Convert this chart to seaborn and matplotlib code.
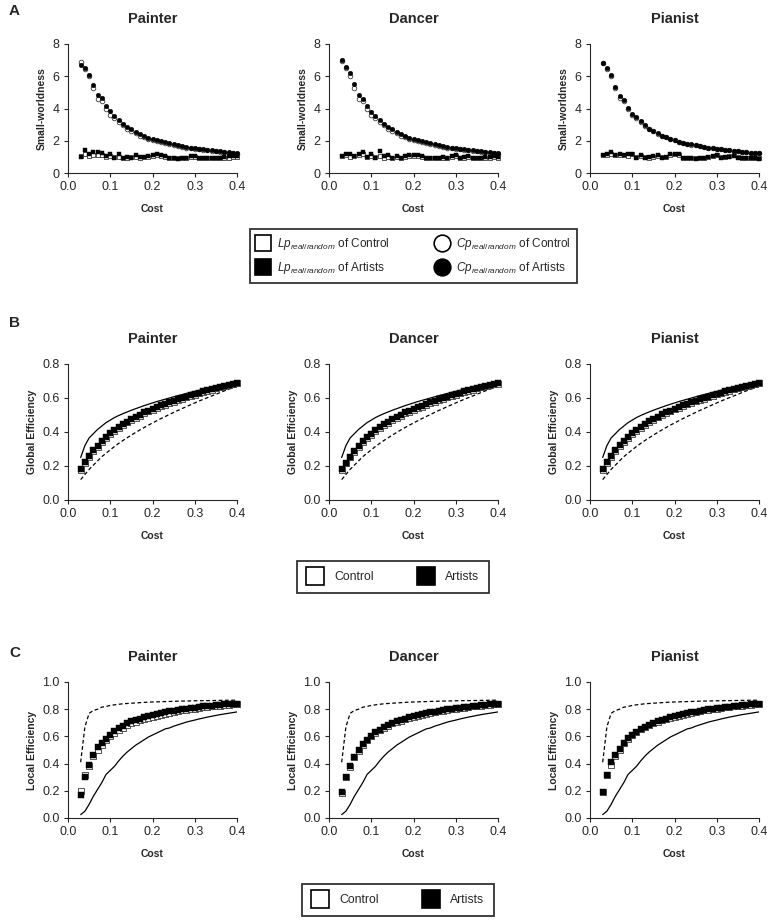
import numpy as np
import pandas as pd
import matplotlib
matplotlib.use('Agg')
import matplotlib.pyplot as plt
from matplotlib.lines import Line2D
import seaborn as sns

sns.set_style("ticks")
plt.rcParams['font.family'] = ['Liberation Sans', 'DejaVu Sans']
plt.rcParams['mathtext.fontset'] = 'custom'
plt.rcParams['mathtext.rm'] = 'Liberation Sans'
plt.rcParams['mathtext.it'] = 'Liberation Sans:italic'

# ---- data ----
cost = [0.03, 0.04, 0.05, 0.06, 0.07, 0.08, 0.09, 0.10, 0.11, 0.12,
        0.13, 0.14, 0.15, 0.16, 0.17, 0.18, 0.19, 0.20, 0.21, 0.22,
        0.23, 0.24, 0.25, 0.26, 0.27, 0.28, 0.29, 0.30, 0.31, 0.32,
        0.33, 0.34, 0.35, 0.36, 0.37, 0.38, 0.39, 0.40]
groups = ['Painter', 'Dancer', 'Pianist']

# small-worldness: Cp and Lp (real/random)
sw_painter_cp_art = [6.70, 6.50, 6.10, 5.45, 4.85, 4.65, 4.15, 3.85, 3.55, 3.30, 3.05, 2.85, 2.70, 2.55, 2.40, 2.30, 2.20, 2.10, 2.05, 1.98,
                     1.92, 1.85, 1.80, 1.72, 1.67, 1.62, 1.58, 1.54, 1.50, 1.47, 1.44, 1.41, 1.38, 1.34, 1.30, 1.28, 1.25, 1.22]
sw_painter_cp_con = [6.90, 6.45, 6.00, 5.30, 4.60, 4.45, 3.95, 3.60, 3.40, 3.15, 2.95, 2.75, 2.60, 2.45, 2.32, 2.22, 2.12, 2.05, 1.98, 1.92,
                     1.85, 1.80, 1.74, 1.68, 1.63, 1.58, 1.54, 1.50, 1.46, 1.43, 1.40, 1.37, 1.34, 1.31, 1.28, 1.25, 1.22, 1.20]
sw_painter_lp_art = [1.00, 1.40, 1.15, 1.30, 1.30, 1.25, 1.05, 1.20, 0.95, 1.15, 0.90, 1.00, 0.95, 1.10, 1.00, 1.00, 1.05, 1.10, 1.15, 1.10,
                     1.05, 0.95, 0.90, 0.85, 0.95, 0.90, 1.05, 1.05, 0.95, 0.95, 0.95, 0.95, 0.95, 0.95, 1.00, 1.05, 1.05, 1.05]
sw_painter_lp_con = [1.05, 1.15, 1.05, 1.10, 1.10, 1.10, 1.00, 1.05, 1.00, 1.00, 0.95, 0.95, 1.00, 1.00, 0.95, 1.00, 1.00, 1.05, 1.10, 1.05,
                     1.00, 0.95, 0.95, 0.90, 0.90, 0.95, 1.00, 1.00, 0.95, 0.95, 0.95, 0.95, 0.90, 0.95, 0.95, 0.95, 1.00, 1.00]

sw_dancer_cp_art = [7.00, 6.60, 6.20, 5.50, 4.85, 4.60, 4.15, 3.80, 3.55, 3.30, 3.05, 2.85, 2.70, 2.55, 2.40, 2.30, 2.20, 2.12, 2.05, 1.98,
                    1.92, 1.85, 1.80, 1.73, 1.67, 1.62, 1.58, 1.54, 1.50, 1.47, 1.44, 1.41, 1.38, 1.35, 1.32, 1.29, 1.26, 1.24]
sw_dancer_cp_con = [6.95, 6.50, 6.00, 5.30, 4.60, 4.45, 3.95, 3.60, 3.40, 3.15, 2.95, 2.75, 2.60, 2.45, 2.32, 2.22, 2.12, 2.05, 1.98, 1.92,
                    1.85, 1.80, 1.74, 1.68, 1.63, 1.58, 1.54, 1.50, 1.46, 1.43, 1.40, 1.37, 1.34, 1.31, 1.28, 1.25, 1.22, 1.20]
sw_dancer_lp_art = [1.05, 1.20, 1.15, 1.05, 1.20, 1.30, 1.00, 1.20, 0.95, 1.35, 1.05, 1.10, 0.95, 1.05, 0.95, 1.05, 1.10, 1.10, 1.10, 1.05,
                    0.95, 0.95, 0.90, 0.90, 1.00, 0.95, 1.05, 1.10, 0.95, 1.00, 1.05, 0.95, 0.95, 0.95, 1.00, 1.00, 1.05, 1.00]
sw_dancer_lp_con = [1.05, 1.10, 1.00, 1.05, 1.10, 1.15, 1.00, 1.05, 1.00, 1.05, 0.95, 1.00, 0.95, 1.00, 0.95, 1.00, 1.05, 1.05, 1.05, 1.00,
                    0.95, 0.90, 0.90, 0.90, 0.95, 0.95, 1.00, 1.05, 0.95, 0.95, 1.00, 0.95, 0.90, 0.95, 0.95, 0.95, 1.00, 0.95]

sw_pianist_cp_art = [6.85, 6.50, 6.10, 5.35, 4.75, 4.55, 4.05, 3.65, 3.45, 3.20, 2.95, 2.75, 2.60, 2.45, 2.32, 2.22, 2.12, 2.05, 1.95, 1.88,
                     1.82, 1.77, 1.72, 1.67, 1.62, 1.58, 1.54, 1.50, 1.47, 1.44, 1.41, 1.38, 1.35, 1.32, 1.30, 1.27, 1.25, 1.22]
sw_pianist_cp_con = [6.80, 6.45, 6.00, 5.30, 4.65, 4.45, 3.95, 3.60, 3.40, 3.15, 2.93, 2.73, 2.58, 2.43, 2.31, 2.21, 2.11, 2.03, 1.94, 1.87,
                     1.81, 1.76, 1.71, 1.66, 1.61, 1.57, 1.53, 1.49, 1.46, 1.43, 1.40, 1.37, 1.34, 1.31, 1.29, 1.26, 1.24, 1.21]
sw_pianist_lp_art = [1.10, 1.20, 1.30, 1.10, 1.15, 1.10, 1.15, 1.20, 0.95, 1.10, 0.95, 1.00, 1.05, 1.10, 0.95, 1.00, 1.15, 1.20, 1.15, 0.95,
                     0.95, 0.90, 0.85, 0.90, 0.95, 1.00, 1.05, 1.10, 0.95, 1.00, 1.00, 1.05, 0.95, 0.95, 0.90, 0.95, 0.95, 0.85]
sw_pianist_lp_con = [1.10, 1.10, 1.15, 1.10, 1.10, 1.10, 1.05, 1.20, 1.00, 1.05, 1.00, 0.95, 1.00, 1.05, 1.00, 1.00, 1.10, 1.15, 1.10, 0.95,
                     0.90, 0.90, 0.90, 0.95, 0.95, 1.00, 1.05, 1.10, 1.00, 1.00, 1.05, 1.10, 1.00, 0.95, 0.95, 0.95, 0.95, 0.95]

# global efficiency
ge_painter_art = [0.182, 0.222, 0.258, 0.292, 0.320, 0.346, 0.370, 0.392, 0.412, 0.430, 0.446, 0.461, 0.476, 0.490, 0.502, 0.515, 0.526, 0.536, 0.546, 0.556,
                  0.566, 0.575, 0.584, 0.592, 0.600, 0.608, 0.616, 0.624, 0.632, 0.640, 0.647, 0.654, 0.660, 0.666, 0.672, 0.678, 0.683, 0.688]
ge_painter_con = [0.178, 0.218, 0.252, 0.286, 0.314, 0.340, 0.364, 0.386, 0.406, 0.424, 0.441, 0.456, 0.471, 0.485, 0.497, 0.510, 0.521, 0.531, 0.541, 0.551,
                  0.561, 0.570, 0.579, 0.588, 0.596, 0.604, 0.612, 0.620, 0.628, 0.636, 0.643, 0.650, 0.657, 0.663, 0.669, 0.675, 0.681, 0.686]
ge_dancer_art = [0.180, 0.220, 0.255, 0.290, 0.318, 0.345, 0.370, 0.390, 0.410, 0.430, 0.445, 0.460, 0.475, 0.490, 0.500, 0.515, 0.525, 0.535, 0.545, 0.555,
                 0.565, 0.575, 0.583, 0.592, 0.600, 0.608, 0.616, 0.624, 0.632, 0.640, 0.647, 0.654, 0.660, 0.666, 0.672, 0.678, 0.683, 0.688]
ge_dancer_con = [0.177, 0.217, 0.251, 0.285, 0.313, 0.340, 0.364, 0.385, 0.405, 0.424, 0.440, 0.455, 0.470, 0.484, 0.496, 0.509, 0.520, 0.530, 0.540, 0.550,
                 0.560, 0.569, 0.578, 0.587, 0.595, 0.603, 0.611, 0.619, 0.627, 0.635, 0.642, 0.649, 0.656, 0.662, 0.668, 0.674, 0.680, 0.685]
ge_pianist_art = [0.182, 0.224, 0.260, 0.293, 0.322, 0.348, 0.372, 0.393, 0.413, 0.431, 0.447, 0.462, 0.477, 0.490, 0.503, 0.515, 0.526, 0.537, 0.547, 0.557,
                  0.566, 0.575, 0.584, 0.592, 0.600, 0.608, 0.616, 0.624, 0.632, 0.640, 0.647, 0.654, 0.660, 0.666, 0.672, 0.678, 0.683, 0.688]
ge_pianist_con = [0.178, 0.219, 0.254, 0.288, 0.316, 0.342, 0.366, 0.388, 0.408, 0.426, 0.443, 0.458, 0.473, 0.486, 0.499, 0.511, 0.522, 0.533, 0.543, 0.553,
                  0.562, 0.571, 0.580, 0.589, 0.597, 0.605, 0.613, 0.621, 0.629, 0.637, 0.644, 0.651, 0.658, 0.664, 0.670, 0.676, 0.681, 0.686]
ge_random = [0.250, 0.320, 0.365, 0.390, 0.415, 0.435, 0.455, 0.470, 0.485, 0.497, 0.508, 0.518, 0.528, 0.537, 0.546, 0.555, 0.563, 0.571, 0.579, 0.586,
             0.593, 0.600, 0.607, 0.614, 0.620, 0.627, 0.633, 0.639, 0.645, 0.651, 0.656, 0.662, 0.667, 0.672, 0.677, 0.682, 0.687, 0.692]
ge_lattice = [0.120, 0.150, 0.180, 0.205, 0.230, 0.255, 0.275, 0.295, 0.315, 0.333, 0.350, 0.366, 0.382, 0.397, 0.412, 0.426, 0.440, 0.453, 0.466, 0.479,
              0.491, 0.503, 0.515, 0.527, 0.538, 0.549, 0.560, 0.571, 0.582, 0.592, 0.602, 0.612, 0.622, 0.632, 0.642, 0.651, 0.660, 0.668]

# local efficiency
le_painter_art = [0.170, 0.300, 0.390, 0.460, 0.520, 0.550, 0.580, 0.610, 0.640, 0.660, 0.680, 0.700, 0.710, 0.720, 0.730, 0.740, 0.750, 0.758, 0.765, 0.772,
                  0.778, 0.784, 0.790, 0.795, 0.800, 0.804, 0.808, 0.812, 0.816, 0.820, 0.823, 0.826, 0.829, 0.832, 0.835, 0.837, 0.839, 0.841]
le_painter_con = [0.195, 0.315, 0.385, 0.455, 0.500, 0.540, 0.572, 0.600, 0.625, 0.645, 0.665, 0.682, 0.695, 0.706, 0.717, 0.727, 0.737, 0.745, 0.753, 0.760,
                  0.767, 0.774, 0.780, 0.786, 0.791, 0.796, 0.801, 0.805, 0.809, 0.813, 0.817, 0.821, 0.824, 0.827, 0.830, 0.833, 0.836, 0.838]
le_dancer_art = [0.190, 0.305, 0.380, 0.450, 0.500, 0.545, 0.575, 0.605, 0.630, 0.650, 0.667, 0.685, 0.700, 0.710, 0.720, 0.730, 0.740, 0.748, 0.755, 0.762,
                 0.770, 0.776, 0.782, 0.788, 0.793, 0.798, 0.803, 0.807, 0.811, 0.815, 0.819, 0.823, 0.826, 0.829, 0.832, 0.835, 0.838, 0.840]
le_dancer_con = [0.185, 0.300, 0.378, 0.445, 0.495, 0.540, 0.570, 0.600, 0.625, 0.645, 0.662, 0.680, 0.695, 0.706, 0.716, 0.726, 0.736, 0.744, 0.752, 0.759,
                 0.767, 0.773, 0.779, 0.785, 0.790, 0.795, 0.800, 0.804, 0.808, 0.812, 0.816, 0.820, 0.823, 0.826, 0.829, 0.832, 0.835, 0.837]
le_pianist_art = [0.190, 0.315, 0.410, 0.460, 0.505, 0.550, 0.585, 0.610, 0.635, 0.655, 0.670, 0.685, 0.700, 0.710, 0.720, 0.730, 0.740, 0.748, 0.755, 0.762,
                  0.770, 0.776, 0.782, 0.788, 0.793, 0.798, 0.803, 0.807, 0.811, 0.815, 0.819, 0.823, 0.826, 0.829, 0.832, 0.835, 0.838, 0.840]
le_pianist_con = [0.190, 0.315, 0.390, 0.458, 0.503, 0.548, 0.583, 0.608, 0.633, 0.653, 0.668, 0.683, 0.698, 0.708, 0.718, 0.728, 0.738, 0.746, 0.753, 0.760,
                  0.768, 0.774, 0.780, 0.786, 0.791, 0.796, 0.801, 0.805, 0.809, 0.813, 0.817, 0.821, 0.824, 0.827, 0.830, 0.833, 0.836, 0.838]
le_random = [0.025, 0.050, 0.100, 0.160, 0.210, 0.260, 0.320, 0.350, 0.380, 0.420, 0.455, 0.485, 0.510, 0.535, 0.555, 0.575, 0.595, 0.610, 0.625, 0.640,
             0.655, 0.662, 0.675, 0.685, 0.695, 0.705, 0.713, 0.720, 0.728, 0.735, 0.742, 0.748, 0.754, 0.760, 0.765, 0.770, 0.775, 0.780]
le_lattice = [0.410, 0.670, 0.770, 0.790, 0.800, 0.815, 0.820, 0.828, 0.832, 0.836, 0.840, 0.842, 0.844, 0.846, 0.848, 0.850, 0.852, 0.853, 0.854, 0.855,
              0.856, 0.857, 0.858, 0.859, 0.860, 0.860, 0.861, 0.862, 0.862, 0.863, 0.863, 0.864, 0.864, 0.865, 0.865, 0.866, 0.866, 0.866]

sw = {
    'Painter': (sw_painter_lp_con, sw_painter_lp_art, sw_painter_cp_con, sw_painter_cp_art),
    'Dancer': (sw_dancer_lp_con, sw_dancer_lp_art, sw_dancer_cp_con, sw_dancer_cp_art),
    'Pianist': (sw_pianist_lp_con, sw_pianist_lp_art, sw_pianist_cp_con, sw_pianist_cp_art),
}
ge = {'Painter': (ge_painter_con, ge_painter_art),
      'Dancer': (ge_dancer_con, ge_dancer_art),
      'Pianist': (ge_pianist_con, ge_pianist_art)}
le = {'Painter': (le_painter_con, le_painter_art),
      'Dancer': (le_dancer_con, le_dancer_art),
      'Pianist': (le_pianist_con, le_pianist_art)}

W, H = 770, 923
fig = plt.figure(figsize=(W / 100, H / 100), dpi=100)

col_left = [68, 329, 590]
col_w = 169
rows = {'A': (44, 173), 'B': (364, 500), 'C': (682, 818)}

OPEN_EC = '#3a3a3a'


def make_ax(col, row):
    top, bot = rows[row]
    ax = fig.add_axes([col_left[col] / W, 1 - bot / H, col_w / W, (bot - top) / H])
    return ax


def style_ax(ax, title, ylabel, ylim, yticks, yfmt):
    ax.set_xlim(0, 0.4)
    ax.set_ylim(*ylim)
    ax.set_xticks([0.0, 0.1, 0.2, 0.3, 0.4])
    ax.set_xticklabels([f'{v:.1f}' for v in [0.0, 0.1, 0.2, 0.3, 0.4]])
    ax.set_yticks(yticks)
    ax.set_yticklabels([yfmt.format(v) for v in yticks])
    ax.tick_params(direction='out', length=3, width=0.8, labelsize=9, pad=3)
    for s in ['left', 'bottom']:
        ax.spines[s].set_linewidth(0.8)
    sns.despine(ax=ax)
    ax.set_title(title, fontsize=10.5, fontweight='bold', pad=15)
    ax.set_xlabel('Cost', fontsize=7.5, fontweight='bold', labelpad=8)
    ax.set_ylabel(ylabel, fontsize=7.5, fontweight='bold', labelpad=4)


def dots(ax, y, marker, filled, s):
    if filled:
        sns.scatterplot(x=cost, y=y, ax=ax, marker=marker, s=s, color='black',
                        edgecolor='black', linewidth=0.3, clip_on=False, zorder=3)
    else:
        sns.scatterplot(x=cost, y=y, ax=ax, marker=marker, s=s, color='white',
                        edgecolor=OPEN_EC, linewidth=0.6, clip_on=False, zorder=2)


# row A: small-worldness
for i, g in enumerate(groups):
    ax = make_ax(i, 'A')
    lp_con, lp_art, cp_con, cp_art = sw[g]
    dots(ax, lp_con, 's', False, 10)
    dots(ax, lp_art, 's', True, 10)
    dots(ax, cp_con, 'o', False, 11)
    dots(ax, cp_art, 'o', True, 11)
    style_ax(ax, g, 'Small-worldness', (0, 8), [0, 2, 4, 6, 8], '{:d}')

# row B: global efficiency
for i, g in enumerate(groups):
    ax = make_ax(i, 'B')
    sns.lineplot(x=cost, y=ge_random, ax=ax, color='black', linewidth=0.9)
    sns.lineplot(x=cost, y=ge_lattice, ax=ax, color='black', linewidth=0.9, linestyle=(0, (3, 2)))
    con, art = ge[g]
    dots(ax, con, 's', False, 14)
    dots(ax, art, 's', True, 14)
    style_ax(ax, g, 'Global Efficiency', (0, 0.8), [0.0, 0.2, 0.4, 0.6, 0.8], '{:.1f}')

# row C: local efficiency
for i, g in enumerate(groups):
    ax = make_ax(i, 'C')
    sns.lineplot(x=cost, y=le_random, ax=ax, color='black', linewidth=0.9)
    sns.lineplot(x=cost, y=le_lattice, ax=ax, color='black', linewidth=0.9, linestyle=(0, (3, 2)))
    con, art = le[g]
    dots(ax, con, 's', False, 16)
    dots(ax, art, 's', True, 16)
    style_ax(ax, g, 'Local Efficiency', (0, 1.0), [0.0, 0.2, 0.4, 0.6, 0.8, 1.0], '{:.1f}')

# panel letters
for letter, ypx in [('A', 11), ('B', 323), ('C', 653)]:
    fig.text(9 / W, 1 - ypx / H, letter, fontsize=11, fontweight='bold', va='center', ha='left')


def sq(fc, ms=11.5):
    return Line2D([], [], marker='s', linestyle='none', markersize=ms,
                  markerfacecolor=fc, markeredgecolor='black', markeredgewidth=1.2)


def circ(fc):
    return Line2D([], [], marker='o', linestyle='none', markersize=12,
                  markerfacecolor=fc, markeredgecolor='black', markeredgewidth=1.2)


sub = r'$\mathit{%s}_{\mathit{real/random}}$'
leg_a = fig.legend([sq('white'), sq('black'), circ('white'), circ('black')],
                   [sub % 'Lp' + ' of Control', sub % 'Lp' + ' of Artists',
                    sub % 'Cp' + ' of Control', sub % 'Cp' + ' of Artists'],
                   ncol=2, loc='center', bbox_to_anchor=(413.5 / W, 1 - 256 / H),
                   fontsize=8.5, frameon=True, fancybox=False, edgecolor='black',
                   handlelength=1.2, handletextpad=0.6, columnspacing=3.8, labelspacing=0.7,
                   borderpad=0.55)
leg_a.get_frame().set_linewidth(1.3)

for cy, cx in [(577, 393), (900, 398)]:
    leg = fig.legend([sq('white', 12.5), sq('black', 12.5)], ['Control', 'Artists'],
                     ncol=2, loc='center', bbox_to_anchor=(cx / W, 1 - cy / H),
                     fontsize=8.8, frameon=True, fancybox=False, edgecolor='black',
                     handlelength=1.3, handletextpad=0.9, columnspacing=3.6, borderpad=0.85)
    leg.get_frame().set_linewidth(1.3)

fig.savefig('out.png', dpi=100, facecolor='white')
